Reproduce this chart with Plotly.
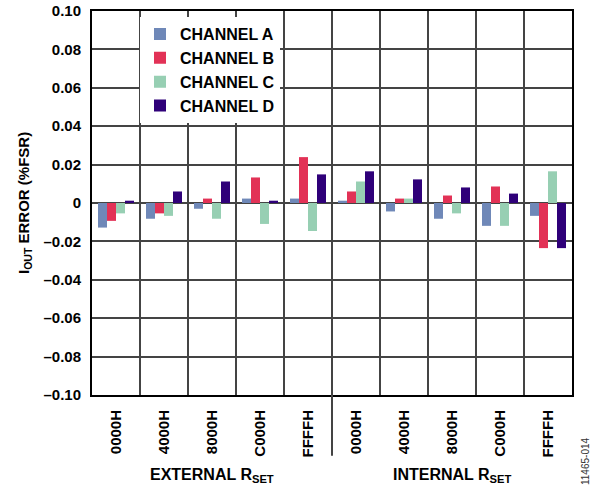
import plotly.graph_objects as go

codes = ["0000H", "4000H", "8000H", "C000H", "FFFFH",
         "0000H", "4000H", "8000H", "C000H", "FFFFH"]
channel_a = [-0.0128, -0.0082, -0.0030, 0.0023, 0.0023, 0.0012, -0.0044, -0.0082, -0.0119, -0.0067]
channel_b = [-0.0093, -0.0054, 0.0023, 0.0133, 0.0239, 0.0060, 0.0023, 0.0039, 0.0086, -0.0235]
channel_c = [-0.0054, -0.0067, -0.0082, -0.0109, -0.0146, 0.0112, 0.0023, -0.0054, -0.0119, 0.0165]
channel_d = [0.0012, 0.0060, 0.0112, 0.0012, 0.0149, 0.0165, 0.0123, 0.0081, 0.0049, -0.0235]
series_names = ["CHANNEL A", "CHANNEL B", "CHANNEL C", "CHANNEL D"]
y_ticks = [0.10, 0.08, 0.06, 0.04, 0.02, 0, -0.02, -0.04, -0.06, -0.08, -0.10]
y_ticktext = ["0.10", "0.08", "0.06", "0.04", "0.02", "0",
              "\u20130.02", "\u20130.04", "\u20130.06", "\u20130.08", "\u20130.10"]

colors = ["#6F88B8", "#E23256", "#97CFB3", "#2F0079"]
FONT = "Arial, Liberation Sans, sans-serif"

x_idx = list(range(len(codes)))
fig = go.Figure()
for i, (name, vals) in enumerate(zip(series_names, [channel_a, channel_b, channel_c, channel_d])):
    fig.add_trace(go.Bar(x=x_idx, y=vals, name=name, marker=dict(color=colors[i], line=dict(width=0)),
                         legendgroup=name))

fig.update_layout(
    width=594, height=491,
    margin=dict(l=92, r=22, t=11, b=96, autoexpand=False),
    paper_bgcolor="white", plot_bgcolor="white",
    barmode="group", bargap=0.25, bargroupgap=0,
    font=dict(family=FONT, color="black"),
    legend=dict(x=0.1, y=0.984, xanchor="left", yanchor="top",
                bgcolor="white", borderwidth=0,
                font=dict(size=16, family=FONT, color="black", weight="bold"),
                tracegroupgap=0, itemwidth=30),
    xaxis=dict(range=[-0.5, 9.5], tickvals=x_idx, ticktext=codes, tickangle=-90,
               tickfont=dict(size=15, family=FONT, weight="bold"),
               showgrid=False, zeroline=False, ticks="", automargin=False,
               ticklabelstandoff=7,
               showline=True, linecolor="black", linewidth=2, mirror=True,
               minor=dict(tick0=0.5, dtick=1, showgrid=True, gridcolor="#444444", gridwidth=2)),
    yaxis=dict(range=[-0.10, 0.10], tickvals=y_ticks, ticktext=y_ticktext,
               tickfont=dict(size=15, family=FONT, weight="bold"), automargin=False,
               ticklabelstandoff=6,
               showgrid=True, gridcolor="#444444", gridwidth=2,
               zeroline=True, zerolinecolor="#444444", zerolinewidth=2,
               showline=True, linecolor="black", linewidth=2, mirror=True, ticks=""),
    showlegend=True,
)

# divider between external and internal groups
fig.add_shape(type="line", xref="x", yref="paper", x0=4.5, x1=4.5, y0=0, y1=-0.158,
              line=dict(color="#444444", width=2))

fig.add_annotation(xref="paper", yref="paper", x=0.25, y=-0.18, xanchor="center", yanchor="top",
                   text="<b>EXTERNAL R<sub>SET</sub></b>", showarrow=False,
                   font=dict(size=16, family=FONT, color="black"))
fig.add_annotation(xref="paper", yref="paper", x=0.75, y=-0.18, xanchor="center", yanchor="top",
                   text="<b>INTERNAL R<sub>SET</sub></b>", showarrow=False,
                   font=dict(size=16, family=FONT, color="black"))
fig.add_annotation(xref="paper", yref="paper", x=-0.1417, y=0.5, xanchor="center", yanchor="middle",
                   textangle=-90,
                   text="<b>I<sub>OUT</sub> ERROR (%FSR)</b>", showarrow=False,
                   font=dict(size=15, family=FONT, color="black"))
fig.add_annotation(xref="paper", yref="paper", x=1.027, y=-0.172, xanchor="center", yanchor="middle",
                   textangle=-90,
                   text="11465-014", showarrow=False,
                   font=dict(size=10, family=FONT, color="#333333"))

fig.write_html("out.html", post_script="document.body.style.margin='0';",
               config={"displayModeBar": False})
